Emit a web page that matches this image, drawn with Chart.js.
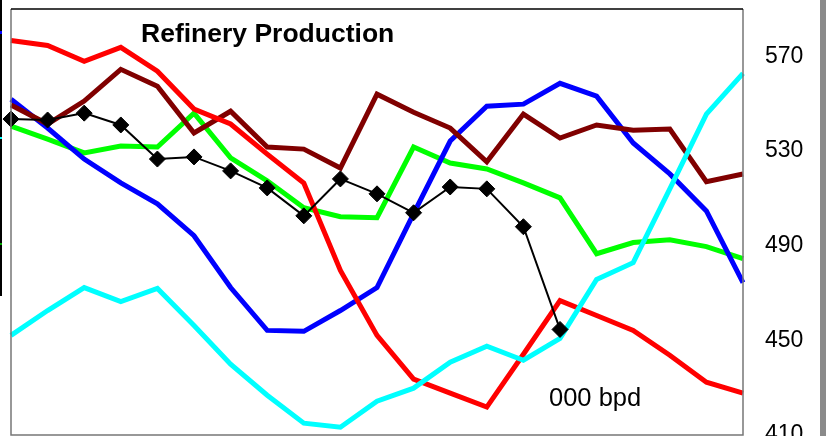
<html>
<head>
    <title>Refinery Production</title>
    <script src="https://cdn.jsdelivr.net/npm/chart.js@4.4.1/dist/chart.umd.min.js"></script>
    <style>
        html, body { margin: 0; padding: 0; background: #fff; overflow: hidden; }
        #wrap { width: 826px; height: 436px; position: relative; overflow: hidden; }
    </style>
</head>
<body>
<div id="wrap">
    <canvas id="refChart" width="826" height="470"></canvas>
</div>

<script>
  // periods along the x axis (not labelled in the picture)
  const periods = ['1', '2', '3', '4', '5', '6', '7', '8', '9', '10', '11',
                   '12', '13', '14', '15', '16', '17', '18', '19', '20', '21']

  const yTicks = [410, 450, 490, 530, 570]

  const redSeries = [576.7, 574.6, 567.9, 573.8, 563.7, 547.7, 541.4, 528.7, 516.5, 479.5, 452.1,
                     433.6, 427.7, 421.8, 444.1, 466.8, 460.5, 454.2, 443.7, 432.3, 427.7]
  const maroonSeries = [549.4, 541.4, 551.1, 564.5, 557.4, 537.6, 546.8, 531.7, 530.8, 522.8, 554.0,
                        546.4, 539.7, 525.4, 545.6, 535.5, 541.0, 538.8, 539.3, 517.0, 520.3]
  const blueSeries = [551.9, 539.7, 526.6, 516.5, 507.7, 494.2, 472.3, 454.2, 453.8, 462.6, 472.3,
                      503.5, 534.2, 548.9, 549.8, 558.6, 553.2, 533.4, 520.3, 504.7, 474.4]
  const greenSeries = [540.5, 535.0, 529.2, 532.1, 531.7, 546.0, 527.1, 517.4, 506.0, 502.2, 501.8,
                       531.7, 524.9, 522.4, 516.5, 510.2, 486.6, 491.3, 492.5, 489.6, 484.5]
  const cyanSeries = [452.1, 462.6, 472.3, 466.4, 471.9, 456.3, 439.9, 426.8, 415.0, 413.3, 424.3,
                      429.8, 440.8, 447.5, 441.6, 450.8, 475.7, 482.8, 514.0, 545.6, 562.8]
  const blackSeries = [543.5, 543.1, 546.0, 541.0, 526.6, 527.5, 521.6, 514.4, 502.6, 518.2, 511.9,
                       503.9, 514.8, 514.0, 498.0, 454.6, null, null, null, null, null]

  function line(data, color, width) {
    return {
      data: data,
      borderColor: color,
      backgroundColor: color,
      borderWidth: width,
      pointRadius: 0,
      pointHoverRadius: 0,
      tension: 0,
      fill: false,
      spanGaps: false
    }
  }

  // frame, title and unit text
  const decor = {
    id: 'decor',
    beforeDraw(chart) {
      const c = chart.ctx
      c.save()
      c.fillStyle = '#fff'
      c.fillRect(0, 0, chart.width, chart.height)
      // piece of neighbouring chart on the left edge
      c.fillStyle = '#000'
      c.fillRect(0, 0, 2, 296)
      c.fillStyle = '#0000ff'
      c.fillRect(0, 31, 2, 3)
      c.fillStyle = '#00ffff'
      c.fillRect(0, 137, 2, 2)
      c.fillStyle = '#00aa00'
      c.fillRect(0, 243, 2, 2)
      // grey bar on the right edge
      c.fillStyle = '#8a8a8a'
      c.fillRect(820, 0, 6, chart.height)
      c.restore()
    },
    afterDraw(chart) {
      const a = chart.chartArea
      const c = chart.ctx
      c.save()
      c.lineWidth = 1.5
      c.strokeStyle = '#777'
      c.beginPath()
      c.moveTo(a.left, a.top)
      c.lineTo(a.left, a.bottom)
      c.lineTo(a.right, a.bottom)
      c.lineTo(a.right, a.top)
      c.stroke()
      c.strokeStyle = '#000'
      c.beginPath()
      c.moveTo(a.left, a.top)
      c.lineTo(a.right, a.top)
      c.stroke()

      c.fillStyle = '#000'
      c.textBaseline = 'alphabetic'
      c.textAlign = 'left'
      c.font = 'bold 26.5px "Liberation Sans", Arial, sans-serif'
      c.fillText('Refinery Production', 141, 42)
      c.font = '25.5px "Liberation Sans", Arial, sans-serif'
      c.fillText('000 bpd', 549, 406)
      c.restore()
    }
  }

  const ctx = document.getElementById('refChart')

  new Chart(ctx, {
    type: 'line',
    data: {
      labels: periods,
      datasets: [
        Object.assign(line(blackSeries, '#000000', 2), {
          pointStyle: 'rectRot',
          pointRadius: 8,
          pointHoverRadius: 8,
          pointBackgroundColor: '#000',
          pointBorderColor: '#000',
          pointBorderWidth: 1
        }),
        line(cyanSeries, '#00ffff', 5),
        line(redSeries, '#ff0000', 5),
        line(maroonSeries, '#800000', 5),
        line(blueSeries, '#0000ff', 5),
        line(greenSeries, '#00ff00', 5)
      ]
    },
    options: {
      responsive: false,
      animation: false,
      layout: { padding: { left: 11, top: 7, right: 0, bottom: 35 } },
      plugins: {
        legend: { display: false },
        title: { display: false },
        tooltip: { enabled: false }
      },
      scales: {
        x: {
          display: false,
          offset: false
        },
        y: {
          position: 'right',
          min: 410,
          max: 590,
          border: { display: false },
          grid: { display: false, drawTicks: false },
          afterBuildTicks(scale) {
            scale.ticks = yTicks.map(v => ({ value: v }))
          },
          afterFit(scale) {
            scale.width = 83
            scale.paddingTop = 0
            scale.paddingBottom = 0
          },
          ticks: {
            padding: 22,
            color: '#000',
            font: { family: '"Liberation Sans", Arial, sans-serif', size: 23 }
          }
        }
      }
    },
    plugins: [decor]
  })
</script>
</body>
</html>
